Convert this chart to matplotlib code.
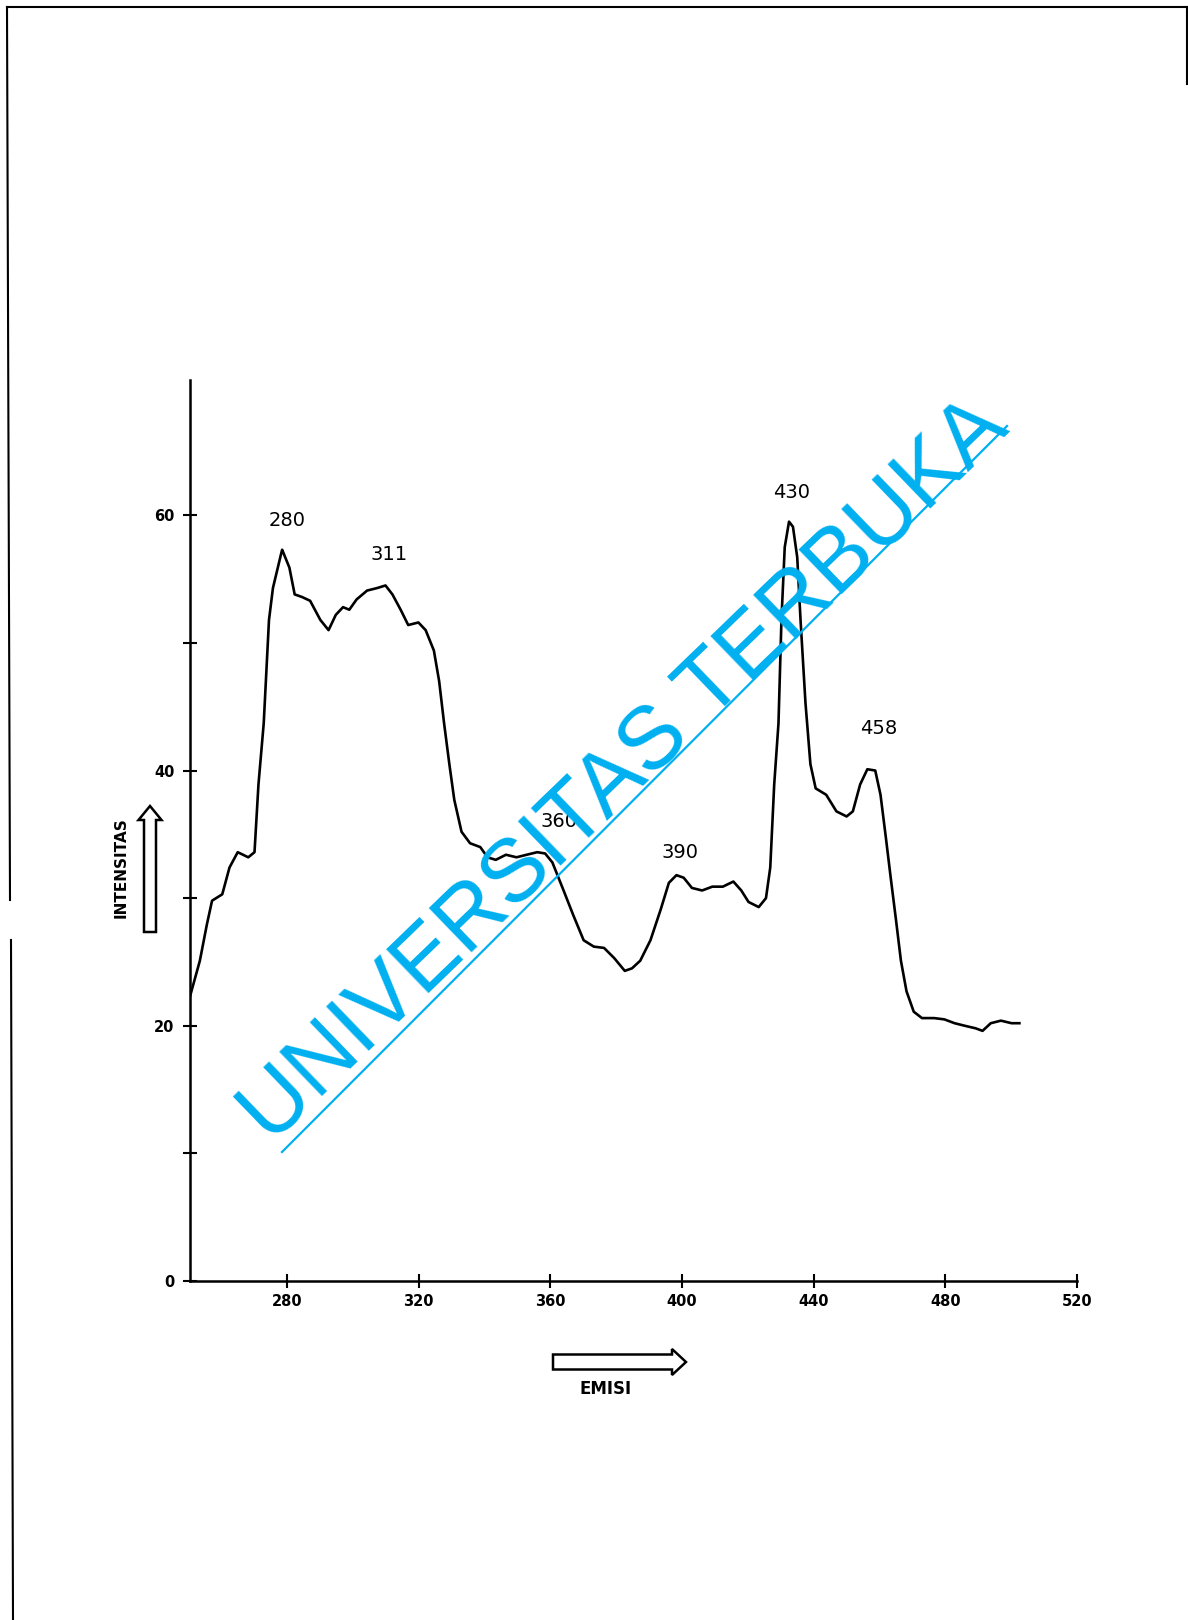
import matplotlib
matplotlib.use("Agg")
import matplotlib.pyplot as plt
from matplotlib.patches import FancyArrow
from matplotlib.lines import Line2D

# emission spectrum
emisi = [250.5, 253.5, 255.6, 257.2, 260.3, 262.5, 265.0, 268.2, 270.1, 271.3,
         272.9, 274.5, 275.7, 278.2, 278.5, 280.7, 282.3, 284.5, 287.0, 290.1,
         292.6, 294.8, 297.0, 298.9, 301.1, 304.3, 307.4, 309.9, 312.0, 314.5,
         316.8, 319.9, 322.1, 324.6, 326.2, 327.7, 329.3, 330.8, 333.0, 335.6,
         338.7, 340.9, 343.4, 346.5, 349.7, 352.8, 356.0, 358.4, 360.6, 363.7,
         366.9, 370.1, 373.2, 376.3, 379.4, 382.6, 384.8, 387.3, 390.4, 393.5,
         396.0, 398.3, 400.5, 403.0, 406.1, 409.2, 412.4, 415.6, 418.0, 420.2,
         423.3, 425.5, 426.8, 428.0, 429.3, 430.2, 431.2, 432.5, 433.7, 435.0,
         436.0, 437.5, 439.0, 440.6, 443.8, 446.9, 450.0, 451.9, 454.1, 456.3,
         458.7, 460.3, 461.9, 463.4, 465.0, 466.5, 468.2, 470.4, 472.9, 476.6,
         479.7, 482.8, 485.9, 489.2, 491.3, 493.8, 496.9, 500.1, 502.5]
intensitas = [22.3, 25.1, 27.9, 29.8, 30.3, 32.4, 33.6, 33.2, 33.6, 38.9,
              43.7, 51.8, 54.3, 57.0, 57.3, 55.9, 53.8, 53.6, 53.3, 51.8,
              51.0, 52.2, 52.8, 52.6, 53.4, 54.1, 54.3, 54.5, 53.8, 52.6,
              51.4, 51.6, 51.0, 49.4, 47.0, 43.7, 40.5, 37.7, 35.2, 34.3,
              34.0, 33.2, 33.0, 33.4, 33.2, 33.4, 33.6, 33.5, 32.8, 30.8,
              28.7, 26.7, 26.2, 26.1, 25.3, 24.3, 24.5, 25.1, 26.7, 29.1,
              31.2, 31.8, 31.6, 30.8, 30.6, 30.9, 30.9, 31.3, 30.6, 29.7,
              29.3, 30.0, 32.4, 38.9, 43.7, 51.8, 57.5, 59.5, 59.1, 56.7,
              51.8, 45.3, 40.5, 38.6, 38.1, 36.8, 36.4, 36.8, 38.9, 40.1,
              40.0, 38.1, 34.8, 31.6, 28.3, 25.1, 22.7, 21.1, 20.6, 20.6,
              20.5, 20.2, 20.0, 19.8, 19.6, 20.2, 20.4, 20.2, 20.2]

peak_labels = ["280", "311", "360", "390", "430", "458"]
peak_x = [280.1, 311.1, 362.6, 399.3, 433.3, 459.7]
peak_y = [59.6, 56.9, 36.0, 33.6, 61.8, 43.3]

x_ticks = [280, 320, 360, 400, 440, 480, 520]
y_ticks = [0, 20, 40, 60]
y_minor = [10, 30, 50]

W, H = 1188, 1620
fig = plt.figure(figsize=(W / 100, H / 100), dpi=100)
fig.patch.set_facecolor("white")

ax = fig.add_axes([190 / W, 339 / H, 887 / W, 901 / H])
ax.plot(emisi, intensitas, color="black", lw=1.9, solid_joinstyle="round")
ax.set_xlim(250.5, 520)
ax.set_ylim(0, 70.6)
for s in ["top", "right"]:
    ax.spines[s].set_visible(False)
for s in ["left", "bottom"]:
    ax.spines[s].set_linewidth(1.8)
ax.set_xticks(x_ticks)
ax.set_yticks(y_ticks)
ax.set_yticks(y_minor, minor=True)
ax.tick_params(which="both", direction="inout", length=10, width=1.5, labelsize=10.5)
ax.tick_params(axis="x", pad=4)
ax.tick_params(axis="y", pad=6)
for lab in ax.get_xticklabels() + ax.get_yticklabels():
    lab.set_fontweight("bold")

for t, px, py in zip(peak_labels, peak_x, peak_y):
    ax.text(px, py, t, ha="center", va="center", fontsize=14,
            family="DejaVu Sans")

# overlay in page pixel coordinates
ov = fig.add_axes([0, 0, 1, 1], zorder=5)
ov.set_xlim(0, W)
ov.set_ylim(H, 0)
ov.axis("off")
ov.patch.set_alpha(0)

# page border of the scan
ov.plot([7, 1187], [7, 7], color="black", lw=1.5)
ov.plot([7, 10], [7, 900], color="black", lw=1.5)
ov.plot([11, 13], [940, 1620], color="black", lw=1.5)
ov.plot([1187, 1187], [7, 84], color="black", lw=1.5)

# axis titles with hollow arrows
ov.add_patch(FancyArrow(150, 932, 0, -126, width=12, head_width=23, head_length=14,
                        length_includes_head=True, fc="white", ec="black", lw=1.8))
ov.text(121, 868, "INTENSITAS", rotation=90, ha="center", va="center",
        fontsize=11, fontweight="bold", family="DejaVu Sans")
ov.add_patch(FancyArrow(553, 1362, 133, 0, width=15, head_width=26, head_length=14,
                        length_includes_head=True, fc="white", ec="black", lw=1.8))
ov.text(606, 1389, "EMISI", ha="center", va="center",
        fontsize=12, fontweight="bold", family="DejaVu Sans")

# watermark
wm = "#00B0F0"
ov.text(625, 772, "UNIVERSITAS TERBUKA", rotation=44, rotation_mode="anchor",
        ha="center", va="center", fontsize=64, color=wm, family="Liberation Sans")
ov.add_line(Line2D([282, 1007], [1152, 426], color=wm, lw=1.6))

fig.savefig("out.png", dpi=100, facecolor="white")
